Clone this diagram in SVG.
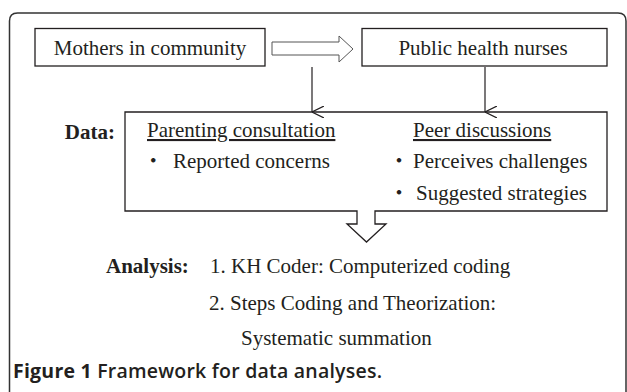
<svg xmlns="http://www.w3.org/2000/svg" width="627" height="392" viewBox="0 0 627 392">
<style>
.t{font-family:"Liberation Serif","Times New Roman",serif;font-size:21px;fill:#231f20}
.b{font-weight:bold}
.u{text-decoration:underline}
.bul{font-family:"Noto Sans CJK JP",sans-serif;font-size:21px}
.box{fill:#fff;stroke:#231f20;stroke-width:1.3}
.ln{fill:none;stroke:#231f20;stroke-width:1.2}
.cap{font-family:"Open Sans","Liberation Sans",sans-serif;font-size:19.5px;fill:#231f20;font-weight:600}
</style>
<defs>
<marker id="ah" viewBox="0 0 12 12" refX="6" refY="12" markerWidth="12" markerHeight="12" markerUnits="userSpaceOnUse" orient="auto-start-reverse">
<polyline points="0,0 6,12 12,0" fill="none" stroke="#231f20" stroke-width="1.2"/>
</marker>
</defs>
<rect width="627" height="392" fill="#fff"/>
<path id="frame" d="M9.5,400 V21 Q9.5,13 17.5,13 H618 Q626,13 626,21 V400" fill="none" stroke="#333" stroke-width="1.5"/>
<g id="mothers">
<rect class="box" x="35" y="28.5" width="230" height="37.5"/>
<text class="t" x="150" y="55" text-anchor="middle">Mothers in community</text>
</g>
<g id="nurses">
<rect class="box" x="362" y="28.5" width="245" height="37.5"/>
<text class="t" x="483" y="55" text-anchor="middle">Public health nurses</text>
</g>
<g id="data">
<path class="box" d="M125,112 H607 V211 H375 V224 H386 L366.5,242 L347,224 H357 V211 H125 Z"/>
<text class="t b" x="115" y="139" text-anchor="end">Data:</text>
<text class="t u" x="147" y="137">Parenting consultation</text>
<text class="t" y="168"><tspan class="bul" x="142.8">・</tspan><tspan x="173">Reported concerns</tspan></text>
<text class="t u" x="413" y="137">Peer discussions</text>
<text class="t" y="168"><tspan class="bul" x="388.5">・</tspan><tspan x="413">Perceives challenges</tspan></text>
<text class="t" y="200"><tspan class="bul" x="388.5">・</tspan><tspan x="416">Suggested strategies</tspan></text>
</g>
<g id="analysis">
<text class="t b" x="106" y="273">Analysis:</text>
<text class="t" x="210" y="273">1. KH Coder: Computerized coding</text>
<text class="t" x="209" y="310">2. Steps Coding and Theorization:</text>
<text class="t" x="241" y="345">Systematic summation</text>
</g>
<g id="connectors">
<path d="M272,42 H339 V36 L353,49 L339,62 V55 H272 Z" fill="#fff" stroke="#555" stroke-width="1"/>
<line class="ln" x1="312" y1="67" x2="312" y2="112" marker-end="url(#ah)"/>
<line class="ln" x1="485" y1="67" x2="485" y2="112" marker-end="url(#ah)"/>
</g>
<text class="cap" x="13" y="378" textLength="369" lengthAdjust="spacing"><tspan font-weight="700">Figure 1</tspan> Framework for data analyses.</text>
</svg>
